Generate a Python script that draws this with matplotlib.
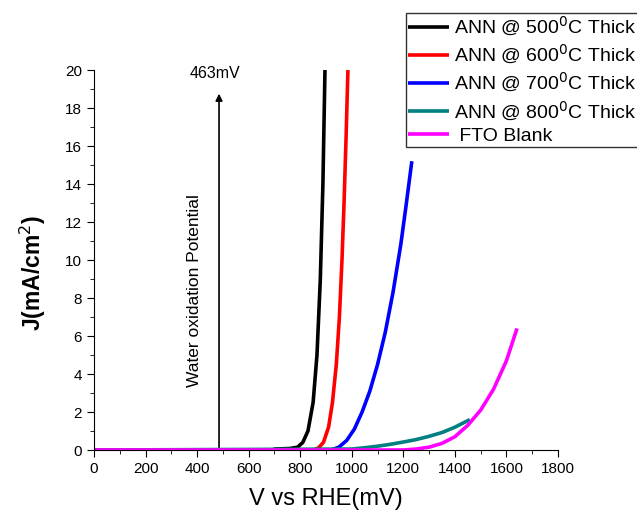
import matplotlib
matplotlib.use("Agg")
import matplotlib.pyplot as plt
from matplotlib.ticker import MultipleLocator

plt.rcParams['font.family'] = ['Liberation Sans', 'DejaVu Sans']

v_500 = [0, 700, 700, 760, 790, 810, 830, 850, 865, 878, 888, 896]
j_500 = [0, 0, 0.05, 0.08, 0.15, 0.4, 1.0, 2.5, 5, 9, 14, 20]
v_600 = [0, 850, 870, 890, 910, 925, 940, 952, 962, 970, 978, 985]
j_600 = [0, 0, 0.1, 0.4, 1.2, 2.5, 4.5, 7, 10, 13, 16.5, 20]
v_700 = [0, 920, 950, 980, 1010, 1040, 1070, 1100, 1130, 1160, 1190, 1210, 1233]
j_700 = [0, 0, 0.15, 0.5, 1.1, 2.0, 3.1, 4.5, 6.2, 8.3, 10.8, 12.8, 15.2]
v_800 = [0, 1000, 1050, 1100, 1150, 1200, 1250, 1300, 1350, 1400, 1458]
j_800 = [0, 0.05, 0.12, 0.2, 0.3, 0.42, 0.55, 0.72, 0.92, 1.2, 1.6]
v_fto = [0, 1200, 1250, 1300, 1350, 1400, 1450, 1500, 1550, 1600, 1641]
j_fto = [0, 0, 0.05, 0.15, 0.35, 0.7, 1.3, 2.1, 3.2, 4.7, 6.4]

labels = ["ANN @ 500$^0$C Thick", "ANN @ 600$^0$C Thick",
          "ANN @ 700$^0$C Thick", "ANN @ 800$^0$C Thick", " FTO Blank"]
colors = ["#000000", "#ff0000", "#0000ff", "#008080", "#ff00ff"]

arrow_v = 485
arrow_label = "463mV"

fig = plt.figure(figsize=(6.37, 5.14), dpi=100)
ax = fig.add_axes([94/637, 1-450/514, (558-94)/637, (450-70)/514])

series = [(v_500, j_500), (v_600, j_600), (v_700, j_700), (v_800, j_800), (v_fto, j_fto)]
handles = []
for (v, j), c, lab in zip(series, colors, labels):
    h, = ax.plot(v, j, color=c, lw=2.6, label=lab, solid_capstyle='butt')
    handles.append(h)

ax.set_xlim(0, 1800)
ax.set_ylim(0, 20)
ax.xaxis.set_major_locator(MultipleLocator(200))
ax.xaxis.set_minor_locator(MultipleLocator(100))
ax.yaxis.set_major_locator(MultipleLocator(2))
ax.yaxis.set_minor_locator(MultipleLocator(1))
for s in ['top', 'right']:
    ax.spines[s].set_visible(False)
ax.tick_params(which='major', direction='out', length=5, labelsize=11)
ax.tick_params(which='minor', direction='out', length=3)

ax.set_xlabel("V vs RHE(mV)", fontsize=17)
ax.xaxis.set_label_coords(0.5, -0.1)
ax.set_ylabel("J(mA/cm$^2$)", fontsize=16.5, fontweight='bold')
ax.yaxis.set_label_coords(-0.1, 0.466)

ax.annotate("", xy=(arrow_v, 18.9), xytext=(arrow_v, 0),
            arrowprops=dict(arrowstyle='-|>', color='black', lw=1.2, mutation_scale=10))
ax.text(471, 19.8, arrow_label, ha='center', va='center', fontsize=11.5, clip_on=False)
ax.text(388, 8.4, "Water oxidation Potential", rotation=90, ha='center', va='center', fontsize=12.5)

fig.legend(handles=handles, loc='upper left', bbox_to_anchor=(406/637, 1-13/514),
           fontsize=14, frameon=True, fancybox=False, edgecolor='black',
           handlelength=2.1, handletextpad=0.25, borderpad=0.1, labelspacing=0.25,
           borderaxespad=0)

fig.savefig("out.png", dpi=100)
